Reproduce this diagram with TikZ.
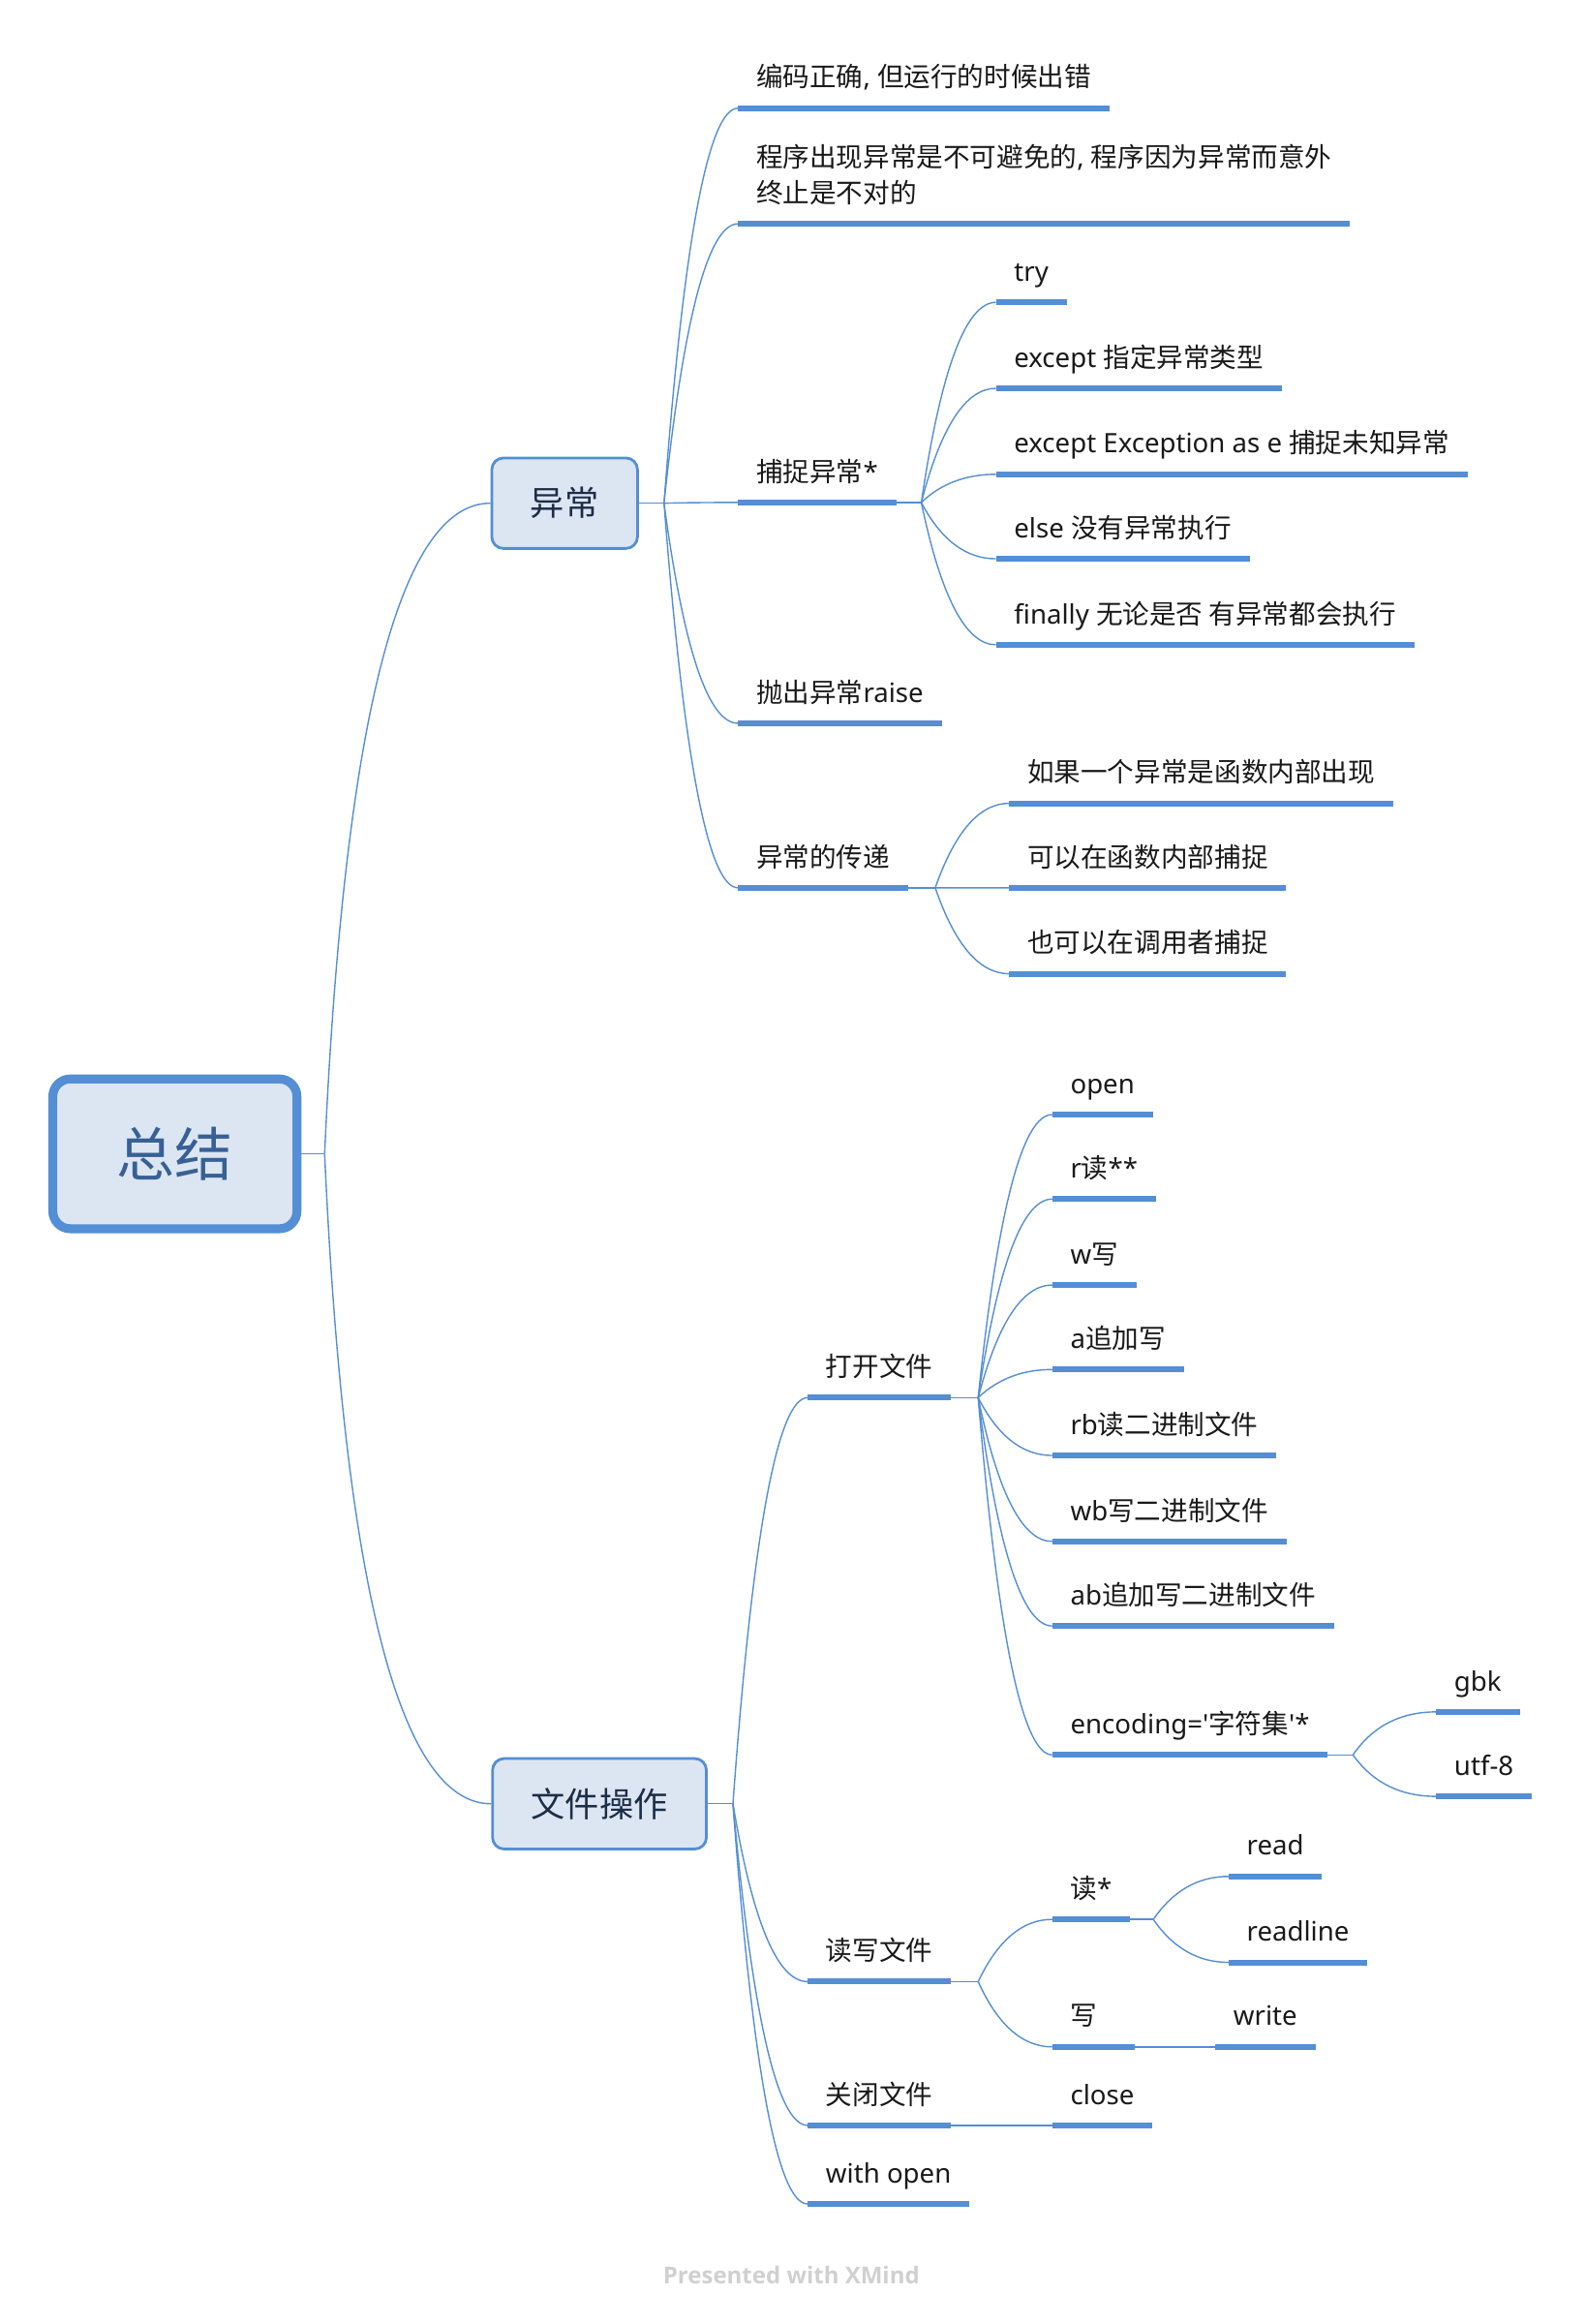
\documentclass[tikz,border=0pt]{standalone}
\usepackage{fontspec}
\newfontfamily\zhfont{Noto Sans CJK SC}
\newfontfamily\enfont{Noto Sans}
\newfontfamily\markfont{Open Sans}
\usetikzlibrary{calc}

% switch to the CJK font for Han characters, back to the Latin one after them
\XeTeXinterchartokenstate=1
\newXeTeXintercharclass\zhclass
\newcount\zhcode
\zhcode="4E00
\loop\ifnum\zhcode<"A000 \XeTeXcharclass\zhcode=\zhclass \advance\zhcode by 1 \repeat
\XeTeXinterchartoks 0 \zhclass = {\zhfont}
\XeTeXinterchartoks 4095 \zhclass = {\zhfont}
\XeTeXinterchartoks \zhclass 0 = {\enfont}

\definecolor{lineblue}{RGB}{84,142,213}
\definecolor{boxfill}{RGB}{220,230,242}
\definecolor{roottext}{RGB}{55,96,150}
\definecolor{topictext}{RGB}{28,45,72}
\definecolor{leaftext}{RGB}{25,25,25}
\definecolor{markgray}{RGB}{208,208,208}

\tikzset{
  link/.style={lineblue, line width=0.7pt},
  xlink/.style={link, to path={.. controls ($(\tikztostart)!2/3!(\tikztostart |- \tikztotarget) + (13.3,0)$)
    and ($(\tikztotarget)!2/3!(\tikztostart |- \tikztotarget) + (13.3,0)$) .. (\tikztotarget)}},
  uline/.style={lineblue, line width=3pt},
  leaf/.style={anchor=south west, inner xsep=9.2pt, inner ysep=0pt, text depth=10.7pt,
    text=leaftext, font=\enfont\fontsize{13.8pt}{18.4pt}\selectfont},
  topic/.style={draw=lineblue, line width=1.4pt, fill=boxfill, rounded corners=6pt,
    minimum height=46.7pt, inner xsep=20pt, text=topictext, font=\zhfont\fontsize{17.6pt}{20pt}\selectfont},
  rootbox/.style={draw=lineblue, line width=4.6pt, fill=boxfill, rounded corners=9pt,
    minimum width=126pt, minimum height=77.3pt, text=roottext, font=\zhfont\fontsize{30pt}{34pt}\selectfont},
}

\begin{document}
\begin{tikzpicture}[x=0.765pt, y=-0.765pt]
  \useasboundingbox (0,0) rectangle (1069,1568);

  % root and main topics
  \node[rootbox] (sum) at (118,778.5) {总结};
  \node[topic] (exc) at (381,339.5) {异常};
  \node[topic] (file) at (404.5,1217) {文件操作};

  % 异常
  \node[leaf] (e1) at (498,73) {编码正确, 但运行的时候出错};
  \node[leaf] (e2) at (498,151) {\begin{tabular}[b]{@{}l@{}}程序出现异常是不可避免的, 程序因为异常而意外\\终止是不对的\end{tabular}};
  \node[leaf] (catch) at (498,339) {捕捉异常*};
  \node[leaf] (raise) at (498,488) {抛出异常raise};
  \node[leaf] (pass) at (498,599) {异常的传递};

  \node[leaf] (c1) at (672,204) {try};
  \node[leaf] (c2) at (672,262) {except 指定异常类型};
  \node[leaf] (c3) at (672,320) {except Exception as e 捕捉未知异常};
  \node[leaf] (c4) at (672,377) {else 没有异常执行};
  \node[leaf] (c5) at (672,435) {finally 无论是否 有异常都会执行};

  \node[leaf] (p1) at (681,542) {如果一个异常是函数内部出现};
  \node[leaf] (p2) at (681,599) {可以在函数内部捕捉};
  \node[leaf] (p3) at (681,657) {也可以在调用者捕捉};

  % 文件操作
  \node[leaf] (open) at (545,943) {打开文件};
  \node[leaf] (rw) at (545,1337) {读写文件};
  \node[leaf] (close) at (545,1434) {关闭文件};
  \node[leaf] (with) at (545,1487) {with open};

  \node[leaf] (o1) at (710,752) {open};
  \node[leaf] (o2) at (710,809) {r读**};
  \node[leaf] (o3) at (710,867) {w写};
  \node[leaf] (o4) at (710,924) {a追加写};
  \node[leaf] (o5) at (710,982) {rb读二进制文件};
  \node[leaf] (o6) at (710,1040) {wb写二进制文件};
  \node[leaf] (o7) at (710,1097) {ab追加写二进制文件};
  \node[leaf] (o8) at (710,1184) {encoding='字符集'*};
  \node[leaf] (g1) at (969,1155) {gbk};
  \node[leaf] (g2) at (969,1212) {utf-8};

  \node[leaf] (rd) at (710,1295) {读*};
  \node[leaf, text width=23.7pt] (wr) at (710,1381) {写};
  \node[leaf] (rd1) at (829,1266) {read};
  \node[leaf] (rd2) at (829,1324) {readline};
  \node[leaf] (wr1) at (820,1381) {write};
  \node[leaf] (cl) at (710,1434) {close};

  % branch points
  \coordinate (xs) at ([xshift=12pt]sum.east);
  \coordinate (xe) at ([xshift=13pt]exc.east);
  \coordinate (xf) at ([xshift=13pt]file.east);
  \coordinate (xc) at ([xshift=13pt]catch.south east);
  \coordinate (xp) at ([xshift=14pt]pass.south east);
  \coordinate (xo) at ([xshift=14pt]open.south east);
  \coordinate (xr) at ([xshift=14pt]rw.south east);
  \coordinate (xd) at ([xshift=12pt]rd.south east);
  \coordinate (xg) at ([xshift=13pt]o8.south east);

  % connectors
  \draw[link] (sum.east) -- (xs);
  \foreach \c in {exc,file}
    \draw[xlink] (xs) to (\c.west);
  \draw[link] (exc.east) -- (xe);
  \foreach \c in {e1,e2,catch,raise,pass}
    \draw[xlink] (xe) to (\c.south west);
  \draw[link] (catch.south east) -- (xc);
  \foreach \c in {c1,c2,c3,c4,c5}
    \draw[xlink] (xc) to (\c.south west);
  \draw[link] (pass.south east) -- (xp);
  \foreach \c in {p1,p2,p3}
    \draw[xlink] (xp) to (\c.south west);
  \draw[link] (file.east) -- (xf);
  \foreach \c in {open,rw,close,with}
    \draw[xlink] (xf) to (\c.south west);
  \draw[link] (open.south east) -- (xo);
  \foreach \c in {o1,o2,o3,o4,o5,o6,o7,o8}
    \draw[xlink] (xo) to (\c.south west);
  \draw[link] (o8.south east) -- (xg);
  \foreach \c in {g1,g2}
    \draw[xlink] (xg) to (\c.south west);
  \draw[link] (rw.south east) -- (xr);
  \foreach \c in {rd,wr}
    \draw[xlink] (xr) to (\c.south west);
  \draw[link] (rd.south east) -- (xd);
  \foreach \c in {rd1,rd2}
    \draw[xlink] (xd) to (\c.south west);
  \draw[link] (wr.south east) -- (wr1.south west);
  \draw[link] (close.south east) -- (cl.south west);

  % underlines
  \foreach \n in {e1,e2,catch,raise,pass,c1,c2,c3,c4,c5,p1,p2,p3,open,rw,close,with,
                  o1,o2,o3,o4,o5,o6,o7,o8,g1,g2,rd,wr,rd1,rd2,wr1,cl}
    \draw[uline] (\n.south west) -- (\n.south east);

  \node[text=markgray, font=\markfont\bfseries\fontsize{12pt}{14pt}\selectfont] (mark) at (534,1535) {Presented with XMind};
\end{tikzpicture}
\end{document}
